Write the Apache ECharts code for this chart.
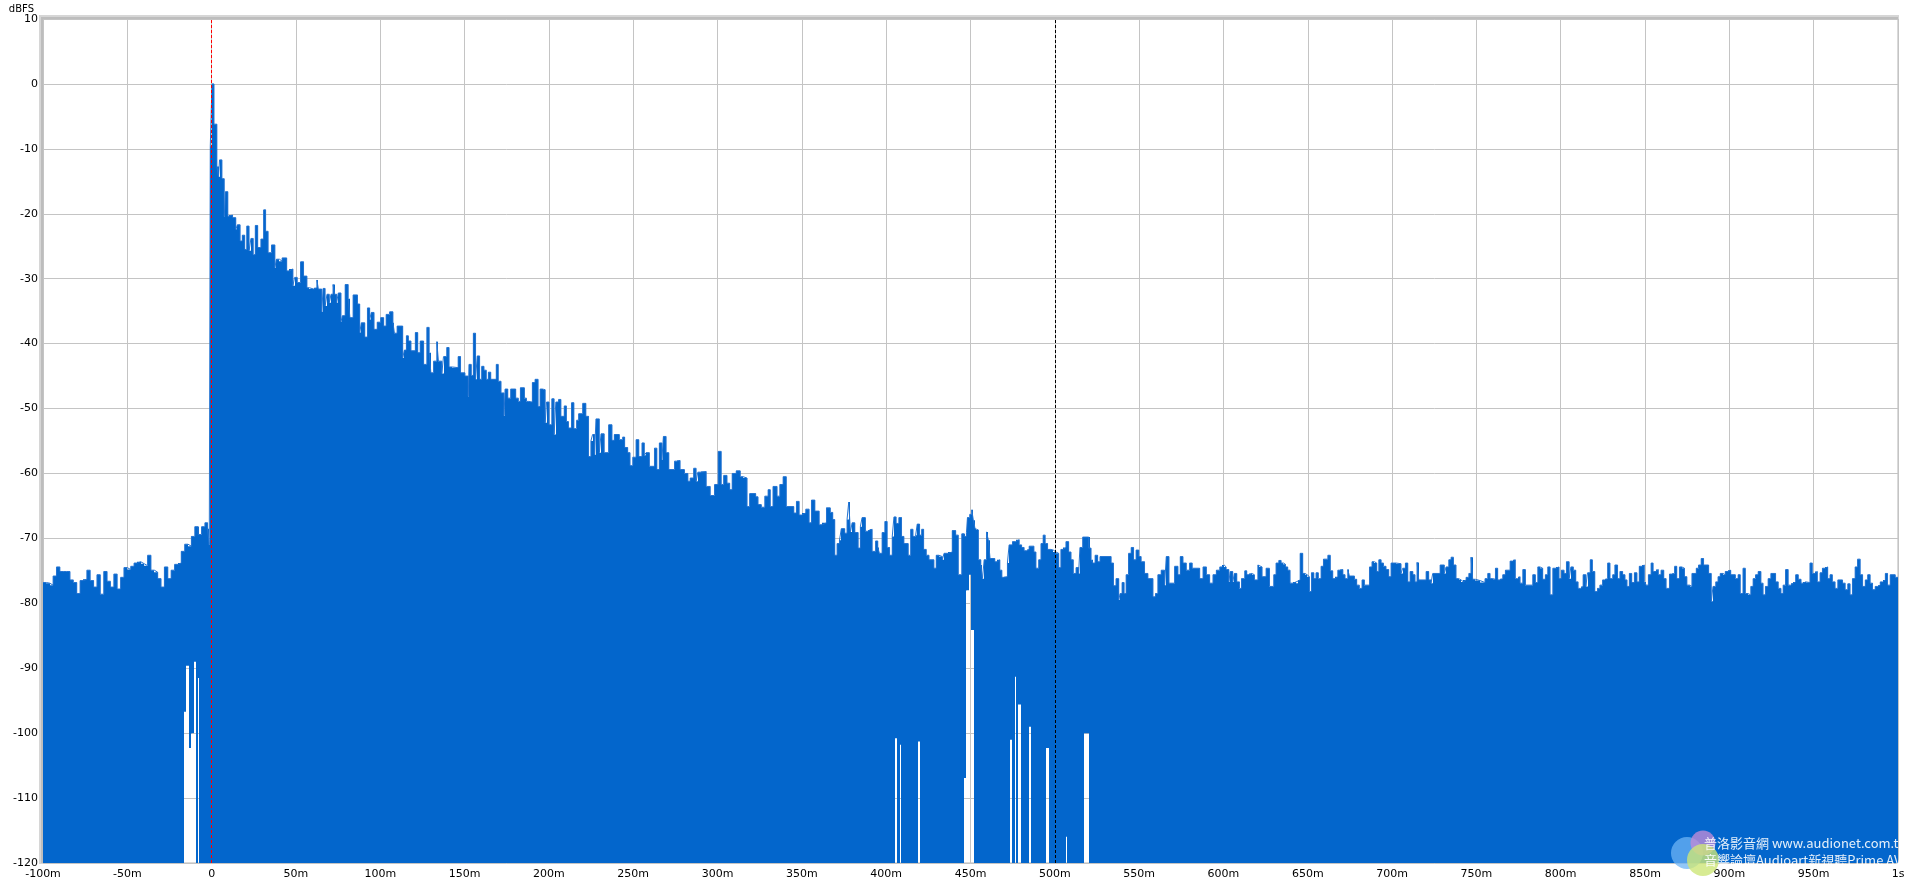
<!DOCTYPE html>
<html><head><meta charset="utf-8">
<script src="https://cdn.jsdelivr.net/npm/echarts@6/dist/echarts.min.js"></script>
<style>html,body{margin:0;padding:0;background:#fff}#c{width:1920px;height:889px}</style>
</head><body><div id="c"></div>
<script>
// Upper envelope of the impulse response: [time ms (start of step), level dBFS]
const preRing = [[-100,-76.8],[-98,-76.9],[-96,-77.2],[-94,-75.8],[-92,-74.4],[-90,-75.1],[-88,-75.1],[-86,-75.1],[-84,-76.4],[-82,-76.8],[-80,-78.5],[-78,-76.5],[-76,-76.3],[-74,-74.9],[-72,-76.5],[-70,-77.5],[-68,-75.6],[-66,-78.6],[-64,-75.1],[-62,-76.6],[-60,-77.5],[-58,-75.5],[-56,-77.8],[-54,-76],[-52,-74.5],[-50,-74.8],[-48,-74.3],[-46,-73.8],[-44,-73.6],[-42,-73.9],[-40,-74.2],[-38,-72.6],[-36,-74.9],[-34,-75.2],[-32,-76.2],[-30,-77.5],[-28,-74.4],[-26,-76.2],[-24,-74.9],[-22,-74],[-20,-73.8],[-18,-72],[-16,-70.9],[-14,-71.2],[-12,-69.7],[-10,-68.2],[-8,-69.4],[-6,-68.2],[-4,-67.6],[-2.4,-68.5],[-1.4,-71],[-0.8,-9.6]];
const earlyDecay = [[0.2,0],[1.4,-6.2],[3.1,-12.7],[4.1,-14.3],[4.7,-11.7],[6.1,-14.6],[7.5,-20.4],[8.2,-16.6],[9.6,-20.4],[10,-20.2],[12.4,-20.6],[14.3,-22.4],[15.3,-21.7],[16.9,-24.2],[18.2,-23.3],[19.6,-25.5],[20.8,-21.9],[22.2,-25.7],[23.3,-23.8],[24.7,-26.3],[25.9,-21.8],[27.3,-25.2],[29.2,-23.9],[30.8,-19.4],[32,-22.7],[33.5,-26],[35.5,-24.8],[37.5,-28.3],[38.4,-27],[40.2,-27.3],[41.8,-26.8],[44.5,-28.8],[46.1,-28.5],[48.2,-31.1],[49.2,-29.8],[50.8,-30.6],[52.7,-27.4],[54.5,-29.6],[56.5,-31.4],[58,-31.6],[60.6,-31.4],[62.4,-30.2],[63.3,-31.6],[65.3,-35.1],[66.1,-31.5],[67.3,-34.2],[68.4,-32.4],[69.8,-33.7],[70.8,-32.4],[72,-30.9],[72.9,-32.4],[74.1,-33.7],[75.1,-32.2],[76.7,-36.6],[77.6,-35.7],[79.2,-30.9],[81,-33.1],[82,-36],[83.9,-32.5],[86.5,-33.9],[87.8,-38.3],[88.8,-36.8],[90.8,-39],[92.4,-34.5],[93.7,-36.3],[94.7,-35.2],[96.3,-37.8],[98.2,-36.7],[100.2,-36],[102,-37.3],[103.5,-35.5],[105.5,-35.1],[107.5,-36.8],[108.4,-38.4],[110,-37.3],[113.3,-42.2],[114.3,-41],[115.5,-38.8],[116.7,-39.6],[118.2,-41.1],[120.8,-38.3],[122.2,-41.4],[123.7,-39.6],[125.7,-43.2],[127.6,-37.5],[129,-41.4],[130,-44.5],[131.6,-42.7],[133.5,-39.7],[134.5,-42.7],[136.5,-44.6],[137.5,-42],[139.4,-40.6],[140.8,-43.6],[142.7,-43.7]];
const midDecay = [[146.2,-42],[147.6,-44.5],[150.2,-45],[152.2,-48.1],[152.6,-43.2],[154,-44.9],[155.2,-38.4],[156.5,-45.5],[157.5,-41.9],[158.9,-45.5],[160.1,-43.5],[161.5,-44.1],[162.9,-45.5],[164.1,-44.4],[165.5,-45.5],[168.8,-43.2],[170,-45.8],[171.6,-47.6],[173.4,-51.1],[174,-47],[175.6,-48.4],[177.3,-47],[180.3,-48.4],[181.9,-48.9],[183.1,-46.8],[185.5,-48.4],[186.7,-48.9],[187.9,-49],[190.2,-46],[191.8,-45.5],[193.6,-49.7],[194.8,-47],[196.2,-47.1],[197.8,-52.2],[198.6,-49],[200.1,-52.5],[201.7,-48.5],[203.1,-54],[204.1,-49],[205.7,-48.6],[207.1,-51.2],[209.1,-49.6],[210.4,-52],[211.6,-53],[213.4,-49.1],[214.8,-53.1],[216.4,-51.8],[217.6,-50.8],[220,-49.2],[221.9,-51.2],[223.5,-57.4],[224.9,-55],[225.9,-54],[227.1,-57.1],[227.9,-51.6],[229.9,-56.8],[230.9,-53.9],[232.8,-56.8],[235.4,-52.5],[237.4,-54.9],[238.8,-54],[241.8,-54.8],[243.7,-54.4],[244.9,-56],[246.7,-56.8],[248.1,-58.8],[249.7,-57.5],[251.7,-54.8],[253.3,-57.4],[255.2,-55.3],[256.6,-57.2],[257.6,-56.8],[259.6,-58.9],[262.6,-56.1],[264,-59.4],[265.5,-55.3],[267,-57.9],[267.9,-54.3],[269.5,-56.8],[271.1,-59.4],[274.5,-58.1],[275.8,-58],[277.8,-59.4],[280.4,-60],[282.4,-61.2],[283.8,-60.7],[285.8,-59.2],[287.3,-61.2],[288.3,-59.8],[290.3,-59.7],[293.3,-62],[295.7,-63.4],[298.2,-61.7],[300.4,-56.6],[302.2,-61.7],[303.6,-60.3],[305.6,-61.5],[307.2,-62.5],[308.7,-60],[311.1,-59.6],[313.5,-60.5],[315.1,-60.7],[317.5,-65.1],[319,-63.1],[322.6,-63.6],[324,-64.8],[326,-65.2],[328,-63.5],[330,-62.5],[331.3,-65.1],[332.9,-62],[335.3,-63.5],[336.9,-61.7],[338.9,-60.5],[340.8,-65.1],[345.2,-66.1],[346.8,-64.3],[348.4,-66.4],[349.8,-66.1],[352.3,-65.5],[354.3,-67.6],[355.7,-64.1],[357.7,-65.8],[360.3,-67.9],[362.2,-67.6],[364.6,-65.3]];
const lateDecay = [[366.9,-66],[368.3,-67.1],[369.5,-72.6],[370.9,-70.8],[372.3,-70.3],[373.4,-68.5],[375.4,-69.2],[376.8,-67.1],[377.8,-64.4],[378.8,-69],[379.8,-67.6],[381.4,-69.1],[383.4,-71.5],[384.7,-68.2],[385.7,-66.8],[387.7,-68.9],[389.1,-68.7],[390.3,-68.6],[391.7,-72],[393.7,-70.4],[395,-71.4],[396,-72.3],[397.6,-69.1],[399.2,-67.4],[400.6,-71.4],[402,-72.6],[403.6,-69.7],[404.6,-66.7],[405.9,-67.7],[407.5,-66.8],[409.1,-69.7],[410.5,-70.8],[413.1,-72.6],[414.5,-68.6],[415.9,-69.7],[417.4,-69.5],[418.4,-67.8],[419.8,-69.5],[421,-68.6],[422.2,-71.7],[423.8,-72.6],[425.4,-73.3],[428.3,-74.6],[429.7,-72.6],[431.3,-72.8],[433.3,-73.3],[434.3,-72.3],[436.9,-72.1],[439.2,-68.8],[441.2,-69.5],[442.8,-75.6],[444.8,-69.3],[446.2,-69.7],[447.6,-69.1],[448.2,-66.8],[449.5,-66.3],[450.7,-65.6],[451.7,-67.2],[452.7,-68.5],[453.5,-68.7],[454.7,-73.3],[456.1,-74.1],[457.1,-76.2],[458.1,-73.3],[459.5,-69],[460.6,-70.3],[461.6,-73.1],[464.4,-73.6],[466,-73.3],[467.4,-74.9],[468.6,-76],[470,-75.9],[471.9,-73.8],[472.9,-71],[474.9,-70.5],[476.9,-70.2],[478.9,-71],[480.3,-71.4],[481.8,-71.9],[483.4,-71.7],[484.8,-71.2],[487.6,-72.1],[488.8,-74.6],[490.4,-73.3],[491.8,-70.8],[493.1,-69.5],[494.3,-70.8],[495.7,-71.7],[497.7,-71.8],[499.1,-72.1],[500.7,-72.3],[502.3,-74.5],[503.6,-71.7],[505,-71.4],[506.6,-70.5],[508.2,-72.1],[509.6,-73.3],[511,-75.4],[512.6,-74.5],[514.1,-75.4],[514.9,-71.4],[516.5,-69.8],[520.1,-71.5],[521.5,-73.3],[522.5,-73.8],[523.9,-72.6],[525.4,-73.6],[526.8,-72.8],[533.4,-73.8],[534.8,-77.3],[536.3,-76.2],[537.9,-79.5],[538.7,-78.5],[539.9,-76.8],[541.1,-78.5],[542.3,-75.6],[543.7,-72.3],[545.3,-71.4],[546.7,-73.3],[548.2,-71.8],[549.8,-72.8],[551.2,-73.6],[553.2,-75.4],[555.2,-76.2],[558.2,-79],[559.7,-78.5],[561.1,-75.6],[563.1,-74.9],[565.1,-77.2],[566.1,-72.8],[567.7,-76.9],[571,-74.3],[573,-75.6],[574.4,-72.8],[576,-73.8],[578,-74.9],[579.9,-73.8],[581.5,-74.6],[585.9,-76.2],[587.9,-74.4],[589.9,-75.6],[591.8,-76.9],[593.8,-75.6],[595.8,-74.9],[597.8,-74.4]];
const tailA = [[599.2,-74.1],[600.4,-74.4],[601.6,-74.8],[603.2,-76.7],[604,-75.1],[605.5,-76.7],[606.5,-75.4],[607.9,-76.7],[609.5,-77.7],[610.7,-76.2],[612.6,-75],[613.8,-75.6],[615.4,-75.4],[616.8,-75.6],[618.4,-76.4],[620.4,-74.1],[621.3,-74.4],[622.9,-75.9],[625.3,-74.6],[627.3,-77.4],[629.8,-75.6],[631.2,-73.8],[632.8,-73.4],[634.2,-73.8],[635.6,-74],[636.8,-74.4],[638.1,-74.9],[639.5,-76.9],[641.5,-76.7],[643.1,-76.9],[644.1,-76.4],[645.5,-72.3],[647,-75.4],[648.4,-75.6],[649.6,-75.9],[651,-78.2],[652.2,-75.3],[653.6,-76.2],[654.9,-75.3],[656.3,-76.2],[657.9,-74.3],[659.3,-73.2],[661.9,-72.6],[663.4,-75],[664.8,-76.2],[666.2,-75.9],[667.8,-74.9],[669.2,-74.8],[670.8,-75.6],[672.1,-76.2],[673.7,-74.8],[674.7,-75.8],[677.7,-76.3],[679,-77.2],[680.6,-77.7],[682.2,-76.4],[683.6,-77.2],[686.6,-74.4],[688.1,-73.6],[689.5,-73.8],[690.9,-75.1],[692.1,-73.3],[693.5,-73.8],[694.9,-74.3],[696.4,-74.8],[698,-75.9],[699.4,-73.8],[702.4,-73.9],[705.3,-75.4],[706.3,-74.6],[707.9,-73.8],[709.3,-76.7],[710.7,-75.1],[712.3,-75.6],[713.6,-76.7],[714.8,-73.7],[715.8,-76.4],[720.2,-75.1],[721.7,-76.4],[723.1,-76.9],[724.1,-75.4],[728.5,-74.1],[731,-75.4],[732,-74.4],[733.6,-73.3],[735,-72.9],[736.4,-74.1],[737.9,-76.2],[739.5,-76.4],[740.9,-76.7],[742.3,-76.4],[743.9,-76],[745.5,-75.4],[746.8,-72.9],[747.8,-76.3],[749.4,-76.5],[752.2,-76.8],[755.1,-76.2],[756.7,-75.4],[758.1,-76.2],[759.7,-76.3],[761.3,-74.6],[762.6,-76.4],[764,-76.2],[765.6,-75.6],[767.2,-74.9],[770,-73.5],[771.5,-73.3],[773.1,-76.2],[774.5,-75.9],[775.9,-76.9],[777.5,-74.8],[779.1,-77.2],[783.4,-75.6],[785,-76.8],[786.4,-74.4],[787.7,-74.6],[789.3,-76.3],[790.9,-75.6],[792.3,-74.4],[793.7,-78.7],[795.3,-74.6],[797.2,-74.4]];
const tailB = [[799,-76.2],[800.4,-74.9],[802,-75.4],[803.4,-73.6],[805,-76.2],[806,-74.4],[807.5,-74.9],[808.9,-76.7],[810.3,-77.7],[811.9,-77.4],[813.3,-75.6],[814.9,-77.4],[815.9,-75.3],[817.5,-73.3],[818.8,-75.1],[820.2,-78.2],[821.8,-77.7],[823.2,-77.2],[824.8,-76.4],[826.2,-76.2],[827.8,-73.8],[829.2,-76.2],[830.8,-75.6],[832.1,-74.1],[833.7,-76.2],[835.1,-75.1],[836.7,-75.6],[838.1,-76.4],[839.3,-77.4],[840.7,-75.4],[842.1,-76.8],[843.7,-75.3],[845.2,-76.7],[846.6,-74.3],[848,-74.1],[849.6,-76.7],[850.6,-77.2],[852,-75.6],[853.6,-73.8],[854.8,-75.1],[856.5,-74.8],[857.9,-75.6],[859.5,-74.9],[861.1,-76.2],[862.5,-77.7],[864.5,-75.5],[865.9,-75.4],[867.5,-74.3],[868.8,-76.2],[870.4,-74.4],[871.8,-74.6],[873.4,-75.9],[874.8,-77.2],[876.4,-77.4],[877.8,-75.4],[880.4,-74.6],[881.7,-74.1],[883.3,-73.1],[884.7,-74.1],[887.7,-75.4],[889.3,-79.7],[890.3,-77.4],[891.9,-76.7],[893.3,-75.9],[894.6,-75.4],[896.2,-75.6],[897.6,-75.1],[899.2,-74.9],[900.8,-75.6],[903.6,-76.2],[905.2,-75.6],[906.5,-78.5],[908.1,-74.6],[909.5,-78.5],[911.1,-78.7],[912.7,-77.4],[914.1,-76.2],[915.5,-75.6],[917.1,-75.1],[918.7,-76.9],[920,-78.7],[921.4,-77.4],[923,-76.2],[924.6,-75.4],[927.4,-76.7],[929,-77.7],[930.6,-78.5],[931.9,-77.2],[933.3,-74.8],[934.9,-77.2],[936.5,-76.9],[937.9,-76.7],[939.3,-75.6],[940.9,-76.3],[942.5,-76.9],[943.8,-76.7],[945.2,-76.8],[947.8,-73.8],[949.2,-75.4],[950.8,-75.1],[952.2,-76.7],[953.8,-75.3],[955.2,-74.6],[956.7,-74.4],[958.3,-76.2],[959.7,-75.6],[961.1,-76.7],[962.7,-77.7],[964.3,-76.4],[967.1,-76.9],[968.7,-77.9],[970.2,-77],[971.6,-78.7],[973,-76.2],[974.6,-74.4],[976,-73.2],[977.6,-75.6],[979,-77.4],[980.6,-76.4],[982,-75.6],[983.5,-76.9],[984.9,-77.9],[986.5,-77.4],[987.9,-77.2],[989.5,-76.7],[990.9,-76.4],[992.5,-75.4],[993.8,-77.2],[995.4,-75.6],[998.4,-76],[1000,-76]];
// Dropouts: [start ms, end ms, lowest level dBFS in that span]
const dropouts = [[-16.5,-15.2,-96.7],[-15.2,-13.6,-89.6],[-13.6,-12.2,-102.3],[-12.2,-10.6,-100],[-10.6,-9.3,-89],[-8.3,-7.6,-91.5],[405.5,406.5,-100.8],[407.9,408.7,-101.8],[418.8,420.2,-101.3],[446.1,447.5,-106.9],[447.5,448.9,-78],[448.9,450.5,-75.6],[450.5,452.1,-84.1],[473.7,474.9,-101],[476.2,476.8,-91.3],[478.4,480,-95.6],[484.8,486.1,-99],[494.7,496.6,-102.3],[506.5,507.5,-115.9],[517.6,520,-100]];
const cursorMarks = [0, 500];
const AXIS_MIN_DB = -120;

const envelope = [].concat(preRing, earlyDecay, midDecay, lateDecay, tailA, tailB);
const tset = new Set(envelope.map(p => p[0]));
dropouts.forEach(d => { tset.add(d[0]); tset.add(d[1]); });
const times = Array.from(tset).sort((a, b) => a - b);
function envAt(t) { let v = envelope[0][1]; for (const p of envelope) { if (p[0] <= t) v = p[1]; else break; } return v; }
function floorAt(t) { for (const d of dropouts) { if (t >= d[0] && t < d[1]) return d[2]; } return AXIS_MIN_DB; }
// segments: [t0, t1, top dB, bottom dB]
const segments = [];
for (let i = 0; i < times.length - 1; i++) {
  segments.push([times[i], times[i + 1], envAt(times[i]), floorAt(times[i])]);
}

function renderSeg(params, api) {
  const p0 = api.coord([api.value(0), api.value(2)]);
  const p1 = api.coord([api.value(1), api.value(3)]);
  let x0 = Math.round(p0[0]), x1 = Math.round(p1[0]);
  if (x1 <= x0) x1 = x0 + 1;
  return {type: 'rect', shape: {x: x0, y: p0[1], width: x1 - x0, height: p1[1] - p0[1]},
          style: {fill: '#0366cc'}, silent: true};
}

const FONT = "'DejaVu Sans', Tahoma, sans-serif";
const chart = echarts.init(document.getElementById('c'), null, {renderer: 'canvas'});
chart.setOption({
  animation: false,
  backgroundColor: '#fff',
  grid: {left: 43, right: 22, top: 19, bottom: 26, show: true, borderColor: '#b4b4b4', borderWidth: 1, backgroundColor: '#fff'},
  xAxis: {
    type: 'value', min: -100, max: 1000, interval: 50,
    axisLine: {show: false}, axisTick: {show: false},
    splitLine: {show: true, lineStyle: {color: '#c4c4c4', width: 1}},
    axisLabel: {color: '#000', fontFamily: FONT, fontSize: 11, margin: 6,
      formatter: v => v === 0 ? '0' : (v === 1000 ? '1s' : v + 'm')}
  },
  yAxis: {
    type: 'value', min: -120, max: 10, interval: 10,
    axisLine: {show: false}, axisTick: {show: false},
    splitLine: {show: true, lineStyle: {color: '#c4c4c4', width: 1}},
    axisLabel: {color: '#000', fontFamily: FONT, fontSize: 11, margin: 5}
  },
  series: [
    {type: 'custom', data: segments, renderItem: renderSeg, clip: true, silent: true, z: 2,
     encode: {x: [0, 1], y: [2, 3]}},
    {type: 'line', step: 'end', data: envelope, symbol: 'none', silent: true, z: 3,
     lineStyle: {color: '#2474d2', width: 1},
     markLine: {silent: true, symbol: ['none', 'none'], label: {show: false}, animation: false,
       data: [
         {xAxis: cursorMarks[0], lineStyle: {color: '#ff0000', type: [3, 2], width: 1}},
         {xAxis: cursorMarks[1], lineStyle: {color: '#000000', type: [3, 2], width: 1}}
       ]}
    }
  ],
  graphic: [
    {type: 'text', x: 34, y: 9, style: {text: 'dBFS', fill: '#000', font: "10px " + FONT, align: 'right', verticalAlign: 'middle'}, silent: true},
    {type: 'rect', shape: {x: 39, y: 15, width: 1860, height: 4}, style: {fill: '#d6d6d6'}, silent: true, z: 10},
    {type: 'rect', shape: {x: 39, y: 15, width: 4, height: 849}, style: {fill: '#d6d6d6'}, silent: true, z: 10},
    {type: 'rect', shape: {x: 41, y: 17, width: 1857, height: 2}, style: {fill: '#bdbdbd'}, silent: true, z: 11},
    {type: 'rect', shape: {x: 41, y: 17, width: 2, height: 846}, style: {fill: '#bdbdbd'}, silent: true, z: 11},
    {type: 'circle', shape: {cx: 1687, cy: 853, r: 16}, style: {fill: 'rgba(110,180,245,0.75)'}, silent: true, z: 20},
    {type: 'circle', shape: {cx: 1703, cy: 843, r: 12.5}, style: {fill: 'rgba(190,140,215,0.8)'}, silent: true, z: 21},
    {type: 'circle', shape: {cx: 1703, cy: 860, r: 16}, style: {fill: 'rgba(205,230,120,0.8)'}, silent: true, z: 22},
    {type: 'text', x: 1704, y: 843, style: {text: '普洛影音網 www.audionet.com.tw', fill: 'rgba(255,255,255,0.9)', font: "13px 'Noto Sans CJK TC', sans-serif", verticalAlign: 'middle'}, silent: true, z: 23},
    {type: 'text', x: 1704, y: 860, style: {text: '音響論壇Audioart新視聽Prime AV', fill: 'rgba(255,255,255,0.9)', font: "13px 'Noto Sans CJK TC', sans-serif", verticalAlign: 'middle'}, silent: true, z: 23},
    {type: 'rect', shape: {x: 1899, y: 830, width: 21, height: 40}, style: {fill: '#fff'}, silent: true, z: 24}
  ]
});
</script>
</body></html>
